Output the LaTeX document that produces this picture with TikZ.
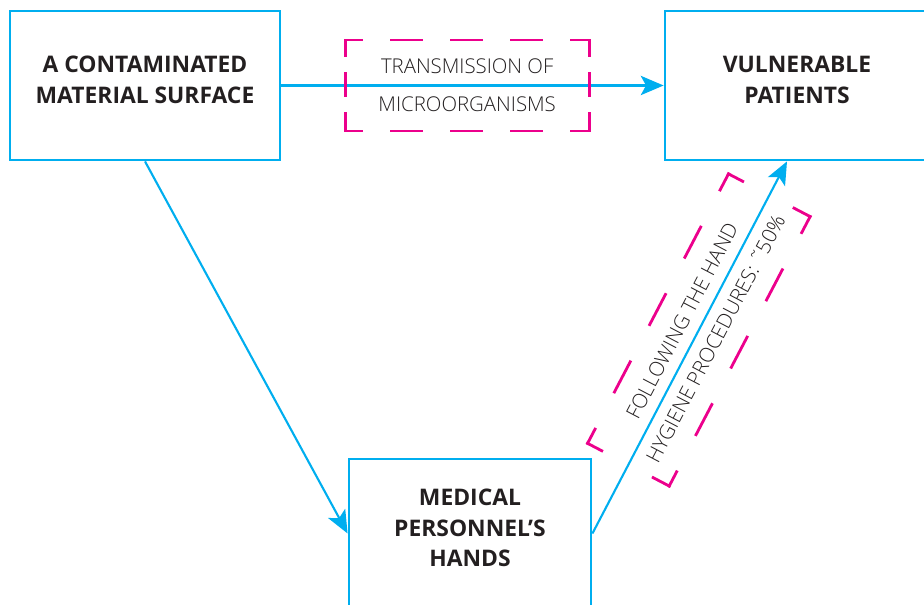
\documentclass[tikz,border=0pt]{standalone}
\usepackage{fontspec}
\setmainfont{Open Sans}
\newfontfamily\lightfont{Open Sans Light}
\usetikzlibrary{arrows.meta, positioning, calc}
\definecolor{cyanline}{HTML}{00AEEF}
\definecolor{magline}{HTML}{EC008C}
\definecolor{inktext}{HTML}{231F20}

\begin{document}
\begin{tikzpicture}[>={Stealth[length=13pt, width=11pt, inset=3pt]},
  box/.style={draw=cyanline, line width=1.6pt, minimum height=2.98cm, inner sep=0pt, text depth=6.5pt, align=center, text=inktext, font=\fontsize{13}{17.2}\selectfont\bfseries},
  flow/.style={->, draw=cyanline, line width=1.2pt},
  tag/.style={minimum width=4.84cm, minimum height=1.78cm, inner sep=0pt, align=center, text=inktext, font=\lightfont\fontsize{11.6}{21.6}\selectfont},
  pinkline/.style={draw=magline, line width=1.6pt, line cap=rect},
  hside/.style={pinkline, dash pattern=on 0.6cm off 0.6cm, dash phase=0.28cm},
  vside/.style={pinkline, dash pattern=on 0.46cm off 0.34cm, dash phase=0.14cm},
  longside/.style={pinkline, dash pattern=on 0.68cm off 0.84cm, dash phase=0.36cm},
  shortside/.style={pinkline, dash pattern=on 0.64cm off 1.16cm, dash phase=0.32cm}]
  \useasboundingbox (0,0) rectangle (18.48,12.1);
  \clip (0,0) rectangle (18.48,12.1);
  % the three places
  \node[box, minimum width=5.4cm] (surface) at (2.9,10.39) {A CONTAMINATED\\MATERIAL SURFACE};
  \node[box, minimum width=5.28cm] (patients) at (15.94,10.39) {VULNERABLE\\PATIENTS};
  \node[box, minimum width=4.84cm] (hands) at (9.4,1.43) {MEDICAL\\PERSONNEL’S\\HANDS};
  % ways of transmission
  \draw[flow] (surface.east) -- node[tag, pos=0.486] (transmission) {TRANSMISSION OF\\MICROORGANISMS} (patients.west);
  \draw[flow] (surface.south) -- (hands.west);
  \draw[flow] (hands.east) -- node[tag, sloped, pos=0.547, minimum width=6.04cm, minimum height=1.8cm] (hygiene) {FOLLOWING THE HAND\\HYGIENE PROCEDURES: ˜50\%} ([xshift=-0.2cm]patients.south);
  % dashed frames round the labels
  \draw[hside] (transmission.north west) -- (transmission.north east);
  \draw[hside] (transmission.south west) -- (transmission.south east);
  \draw[vside] (transmission.north west) -- (transmission.south west);
  \draw[vside] (transmission.north east) -- (transmission.south east);
  \draw[longside] (hygiene.north west) -- (hygiene.north east);
  \draw[longside] (hygiene.south west) -- (hygiene.south east);
  \draw[shortside] (hygiene.north west) -- (hygiene.south west);
  \draw[shortside] (hygiene.north east) -- (hygiene.south east);
\end{tikzpicture}
\end{document}
